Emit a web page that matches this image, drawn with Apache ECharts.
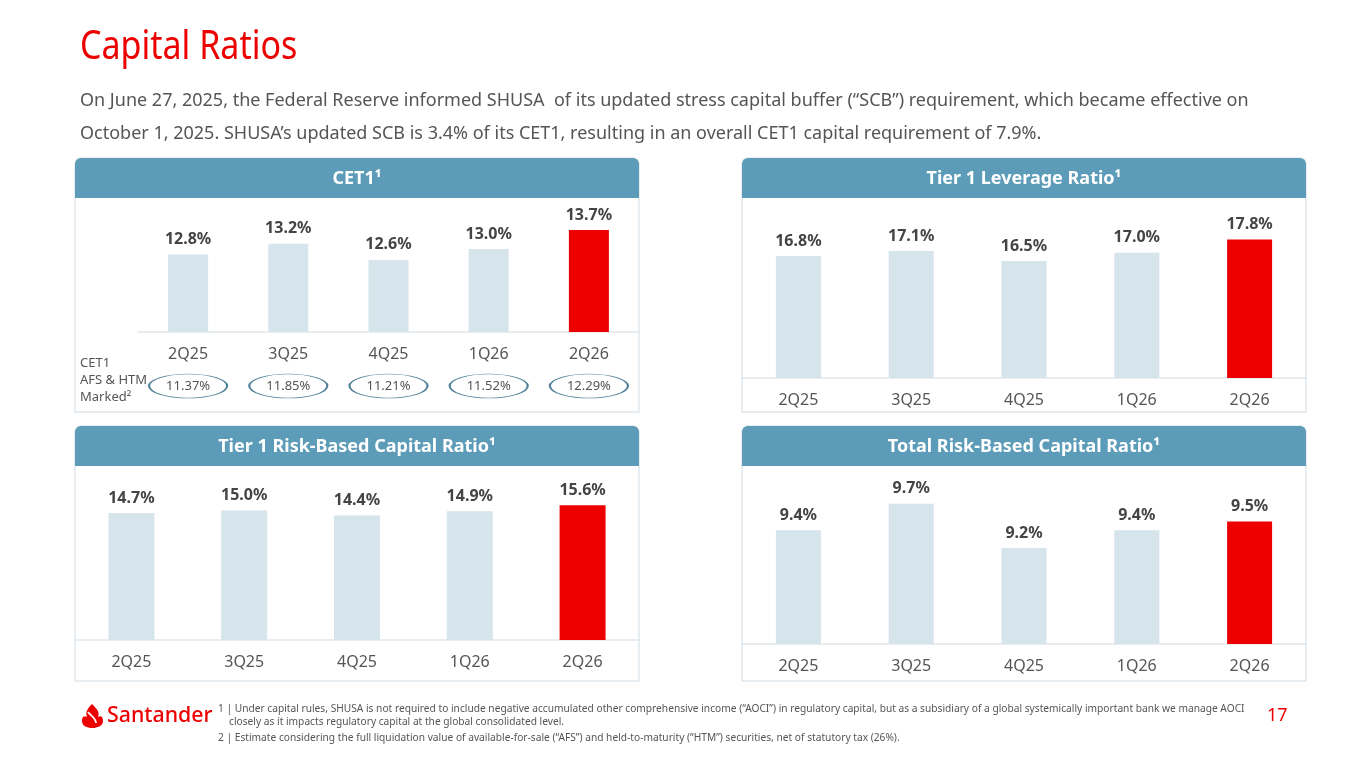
<!DOCTYPE html>
<html>
<head>
<meta charset="utf-8">
<script src="https://cdn.jsdelivr.net/npm/echarts@6/dist/echarts.min.js"></script>
<style>
html,body{margin:0;padding:0;background:#fff;}
#chart{width:1365px;height:768px;}
</style>
</head>
<body>
<div id="chart"></div>
<script>
// ---- data ----
const categories = ['2Q25', '3Q25', '4Q25', '1Q26', '2Q26'];
const cet1 = [12.8, 13.2, 12.6, 13.0, 13.7];
const cet1AfsHtmMarked = [11.37, 11.85, 11.21, 11.52, 12.29];
const tier1Leverage = [16.8, 17.1, 16.5, 17.0, 17.8];
const tier1RiskBased = [14.7, 15.0, 14.4, 14.9, 15.6];
const totalRiskBased = [9.4, 9.7, 9.2, 9.4, 9.5];
const panelTitles = ['CET1¹', 'Tier 1 Leverage Ratio¹', 'Tier 1 Risk-Based Capital Ratio¹', 'Total Risk-Based Capital Ratio¹'];

// ---- styles ----
const RED = '#ec0000';
const LIGHT = '#d6e4eb';
const HEADER = '#5c9cb8';
const BORDER = '#dfe7eb';
const FONT = '"Noto Sans", sans-serif';

const chart = echarts.init(document.getElementById('chart'), null, {renderer: 'canvas'});

// grid layout: [left, top, width, height, axisMin, pxPerUnit, barWidth]
const layouts = [
  [138, 205, 501, 127, 9.94, 27.1, 40],
  [742, 210, 564, 168, 9.5, 16.7, 45],
  [75, 476, 564, 164, 0, 8.64, 46],
  [742, 476, 564, 168, 8.117, 88.6, 45]
];
const seriesData = [cet1, tier1Leverage, tier1RiskBased, totalRiskBased];

const grids = [], xAxes = [], yAxes = [], series = [];
layouts.forEach((l, i) => {
  grids.push({left: l[0], top: l[1], width: l[2], height: l[3], containLabel: false});
  xAxes.push({
    type: 'category', gridIndex: i, data: categories,
    axisLine: {show: true, lineStyle: {color: BORDER, width: 1.5}},
    axisTick: {show: false},
    axisLabel: {color: '#555', fontSize: 16, fontFamily: FONT, margin: 14}
  });
  yAxes.push({
    type: 'value', gridIndex: i, min: l[4], max: l[4] + l[3] / l[5],
    show: false, splitLine: {show: false}
  });
  const vals = seriesData[i];
  series.push({
    type: 'bar', xAxisIndex: i, yAxisIndex: i, data: vals, barWidth: l[6],
    itemStyle: {color: p => p.dataIndex === vals.length - 1 ? RED : LIGHT},
    label: {
      show: true, position: 'top', distance: 7,
      formatter: p => p.value.toFixed(1) + '%',
      color: '#444', fontSize: 16, fontWeight: 'bold', fontFamily: FONT
    }
  });
});

// AFS & HTM marked row (CET1 panel)
grids.push({left: 138, top: 374, width: 501, height: 24});
xAxes.push({type: 'category', gridIndex: 4, data: categories, show: false});
yAxes.push({type: 'category', gridIndex: 4, data: ['afs'], show: false});
series.push({
  type: 'scatter', xAxisIndex: 4, yAxisIndex: 4,
  data: categories.map((c, i) => [c, 'afs', cet1AfsHtmMarked[i]]),
  encode: {x: 0, y: 1},
  symbol: 'path://M0,50a50,50 0 1,0 100,0a50,50 0 1,0 -100,0z',
  symbolSize: [78, 24],
  itemStyle: {color: '#fff', borderColor: '#4f7f98', borderWidth: 1.2, opacity: 1},
  label: {
    show: true, position: 'inside',
    formatter: p => p.value[2].toFixed(2) + '%',
    color: '#555', fontSize: 13, fontFamily: FONT
  },
  silent: true
});

// panels
const panels = [
  [75, 158, 564, 254],
  [742, 158, 564, 254],
  [75, 426, 564, 255],
  [742, 426, 564, 255]
];
const graphic = [];
panels.forEach((p, i) => {
  graphic.push({
    type: 'rect', z: -10,
    shape: {x: p[0], y: p[1], width: p[2], height: p[3], r: [6, 6, 0, 0]},
    style: {fill: '#fff', stroke: BORDER, lineWidth: 1.5}
  });
  graphic.push({
    type: 'rect', z: -9,
    shape: {x: p[0], y: p[1], width: p[2], height: 40, r: [6, 6, 0, 0]},
    style: {fill: HEADER}
  });
  graphic.push({
    type: 'text', z: 10,
    x: p[0] + p[2] / 2, y: p[1] + 21,
    style: {text: panelTitles[i], fill: '#fff', font: 'bold 18px ' + FONT, align: 'center', verticalAlign: 'middle'}
  });
});

// title & intro text
graphic.push({
  type: 'text', x: 80, y: 48, scaleX: 0.85,
  style: {text: 'Capital Ratios', fill: RED, font: '40px ' + FONT, verticalAlign: 'middle'}
});
graphic.push({
  type: 'text', x: 80, y: 101,
  style: {text: 'On June 27, 2025, the Federal Reserve informed SHUSA  of its updated stress capital buffer (\u201cSCB\u201d) requirement, which became effective on', fill: '#555', font: '18px ' + FONT, verticalAlign: 'middle'}
});
graphic.push({
  type: 'text', x: 80, y: 134,
  style: {text: 'October 1, 2025. SHUSA\u2019s updated SCB is 3.4% of its CET1, resulting in an overall CET1 capital requirement of 7.9%.', fill: '#555', font: '18px ' + FONT, verticalAlign: 'middle'}
});

// CET1 AFS row label
graphic.push({
  type: 'text', x: 80, y: 380,
  style: {text: 'CET1\nAFS & HTM\nMarked\u00b2', fill: '#555', font: '13px ' + FONT, lineHeight: 17, verticalAlign: 'middle'}
});

// logo
const flameSvg = '<svg xmlns="http://www.w3.org/2000/svg" width="22" height="24" viewBox="0 0 22 24">' +
  '<path d="M10,0 C15,5 18,8 16,13 C20,11 21,14 21,17 C21,22 15,24 10.5,24 C5,24 0,22 0,17 C0,14 1,11 5,13 C3,8 6,4 10,0 Z" fill="#ec0000"/>' +
  '<path d="M6,8 C9,12 14,14 14,19" stroke="#fff" stroke-width="1.8" fill="none"/></svg>';
graphic.push({
  type: 'image', x: 82, y: 704,
  style: {image: 'data:image/svg+xml;charset=utf-8,' + encodeURIComponent(flameSvg), width: 22, height: 24}
});
graphic.push({
  type: 'text', x: 107, y: 716, scaleX: 0.97,
  style: {text: 'Santander', fill: RED, font: '500 22px ' + FONT, verticalAlign: 'middle'}
});

// footnotes
graphic.push({
  type: 'text', x: 218, y: 709, scaleX: 0.97,
  style: {text: '1 | Under capital rules, SHUSA is not required to include negative accumulated other comprehensive income (\u201cAOCI\u201d) in regulatory capital, but as a subsidiary of a global systemically important bank we manage AOCI', fill: '#555', font: '10.5px ' + FONT, verticalAlign: 'middle'}
});
graphic.push({
  type: 'text', x: 229, y: 722, scaleX: 0.97,
  style: {text: 'closely as it impacts regulatory capital at the global consolidated level.', fill: '#555', font: '10.5px ' + FONT, verticalAlign: 'middle'}
});
graphic.push({
  type: 'text', x: 218, y: 738, scaleX: 0.97,
  style: {text: '2 | Estimate considering the full liquidation value of available-for-sale (\u201cAFS\u201d) and held-to-maturity (\u201cHTM\u201d) securities, net of statutory tax (26%).', fill: '#555', font: '10.5px ' + FONT, verticalAlign: 'middle'}
});
graphic.push({
  type: 'text', x: 1267, y: 716,
  style: {text: '17', fill: RED, font: '18px ' + FONT, verticalAlign: 'middle'}
});

chart.setOption({
  animation: false,
  backgroundColor: '#fff',
  grid: grids,
  xAxis: xAxes,
  yAxis: yAxes,
  series: series,
  graphic: graphic
});
</script>
</body>
</html>
